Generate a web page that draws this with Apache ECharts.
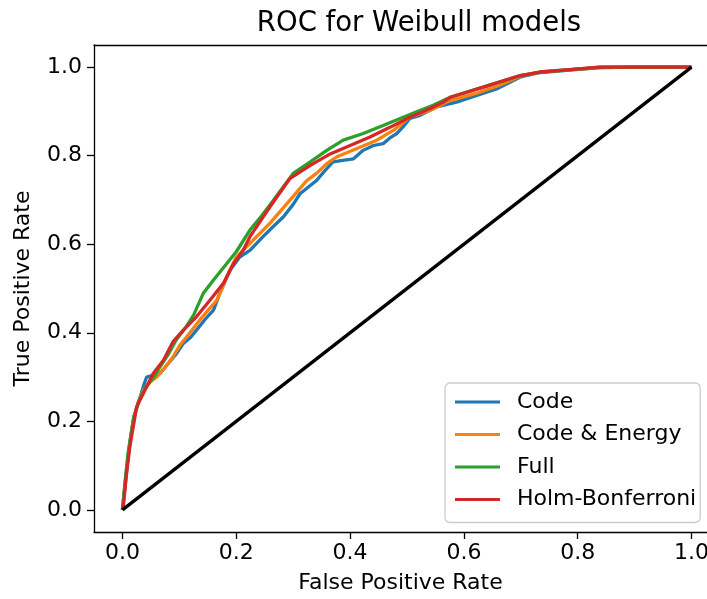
<!DOCTYPE html>
<html>
<head>
<meta charset="utf-8">
<script src="https://cdn.jsdelivr.net/npm/echarts@6/dist/echarts.min.js"></script>
<style>
  html, body { margin: 0; padding: 0; background: #fff; }
  #chart { width: 707px; height: 599px; }
</style>
</head>
<body>
<div id="chart"></div>
<script>
// ROC points [false positive rate, true positive rate] per model
const codeRoc = [[0,0],[0.005,0.06],[0.01,0.12],[0.015,0.17],[0.02,0.21],[0.03,0.25],[0.037,0.28],[0.0425,0.30],[0.057,0.305],[0.066,0.308],[0.08,0.33],[0.095,0.353],[0.107,0.376],[0.12,0.39],[0.13,0.406],[0.145,0.43],[0.16,0.451],[0.171,0.489],[0.18,0.515],[0.189,0.541],[0.206,0.571],[0.224,0.586],[0.247,0.617],[0.265,0.64],[0.283,0.662],[0.3,0.69],[0.312,0.714],[0.341,0.744],[0.355,0.765],[0.37,0.786],[0.39,0.79],[0.406,0.793],[0.423,0.812],[0.441,0.823],[0.458,0.827],[0.47,0.84],[0.482,0.85],[0.495,0.868],[0.505,0.884],[0.523,0.891],[0.552,0.91],[0.587,0.921],[0.62,0.935],[0.66,0.952],[0.7,0.978],[0.73,0.987],[0.78,0.993],[0.84,0.999],[0.9,1.0],[1,1]];
const codeEnergyRoc = [[0,0],[0.005,0.06],[0.01,0.12],[0.019,0.203],[0.028,0.245],[0.037,0.271],[0.05,0.29],[0.06,0.30],[0.075,0.322],[0.089,0.346],[0.1,0.37],[0.113,0.391],[0.136,0.429],[0.15,0.45],[0.166,0.474],[0.175,0.5],[0.183,0.526],[0.2,0.571],[0.224,0.602],[0.259,0.647],[0.294,0.699],[0.324,0.744],[0.341,0.76],[0.359,0.782],[0.376,0.797],[0.412,0.816],[0.447,0.835],[0.476,0.857],[0.505,0.887],[0.54,0.902],[0.576,0.925],[0.62,0.94],[0.66,0.958],[0.7,0.98],[0.73,0.988],[0.78,0.994],[0.84,0.999],[0.9,1.0],[1,1]];
const fullRoc = [[0,0],[0.005,0.07],[0.01,0.13],[0.02,0.21],[0.03,0.25],[0.04,0.275],[0.055,0.3],[0.066,0.323],[0.08,0.35],[0.095,0.385],[0.11,0.41],[0.125,0.44],[0.142,0.489],[0.16,0.519],[0.183,0.556],[0.2,0.583],[0.224,0.632],[0.245,0.665],[0.265,0.699],[0.3,0.76],[0.33,0.786],[0.359,0.812],[0.388,0.835],[0.423,0.85],[0.458,0.868],[0.488,0.884],[0.517,0.899],[0.546,0.914],[0.576,0.932],[0.634,0.955],[0.699,0.981],[0.734,0.989],[0.781,0.994],[0.839,1.0],[1,1]];
const holmRoc = [[0,0],[0.0015,0.0075],[0.007,0.08],[0.013,0.143],[0.025,0.233],[0.0425,0.278],[0.054,0.308],[0.072,0.338],[0.089,0.38],[0.107,0.406],[0.13,0.436],[0.154,0.474],[0.177,0.511],[0.195,0.556],[0.212,0.586],[0.224,0.617],[0.259,0.684],[0.294,0.748],[0.33,0.778],[0.365,0.804],[0.4,0.823],[0.435,0.842],[0.47,0.864],[0.505,0.887],[0.54,0.906],[0.564,0.921],[0.576,0.932],[0.634,0.955],[0.699,0.981],[0.734,0.989],[0.781,0.994],[0.839,1.0],[1,1]];
const chanceLine = [[0,0],[1,1]];

const modelNames = ['Code', 'Code & Energy', 'Full', 'Holm-Bonferroni'];
const modelColors = ['#1f77b4', '#ff7f0e', '#2ca02c', '#d62728'];
const tickValues = [0, 0.2, 0.4, 0.6, 0.8, 1.0];

const FONT = 'DejaVu Sans';
const chart = echarts.init(document.getElementById('chart'), null, { renderer: 'canvas' });

function axisCommon(name, min, max) {
  return {
    type: 'value',
    min: min,
    max: max,
    name: name,
    nameLocation: 'middle',
    nameTextStyle: { fontFamily: FONT, fontSize: 22, color: '#000' },
    splitLine: { show: false },
    axisLine: { show: true, onZero: false, lineStyle: { color: '#000', width: 1.3 } },
    axisTick: { show: true, inside: false, length: 7, lineStyle: { color: '#000', width: 1.3 }, customValues: tickValues },
    axisLabel: { fontFamily: FONT, fontSize: 22, color: '#000', customValues: tickValues,
                 formatter: v => v.toFixed(1) }
  };
}

const seriesList = [codeRoc, codeEnergyRoc, fullRoc, holmRoc].map((d, i) => ({
  type: 'line',
  name: modelNames[i],
  data: d,
  symbol: 'none',
  lineStyle: { color: modelColors[i], width: 3.3 },
  itemStyle: { color: modelColors[i] },
  z: 2 + i,
  animation: false
}));
seriesList.push({
  type: 'line',
  name: 'chance',
  data: chanceLine,
  symbol: 'none',
  lineStyle: { color: '#000', width: 3.3 },
  z: 10,
  animation: false
});

// x range runs past the right edge of the canvas, so the right frame line falls outside
const xMin = -0.05, xMax = 1.0272;
const xAxis = axisCommon('False Positive Rate', xMin, xMax);
xAxis.nameGap = 40;
xAxis.axisLabel.margin = 10;
// top frame line
const xAxisTop = {
  type: 'value', min: xMin, max: xMax, position: 'top',
  axisLine: { show: true, onZero: false, lineStyle: { color: '#000', width: 1.3 } },
  axisTick: { show: false }, axisLabel: { show: false }, splitLine: { show: false }
};
const yAxis = axisCommon('True Positive Rate', -0.05, 1.05);
yAxis.nameGap = 60;
yAxis.axisLabel.margin = 12;

chart.setOption({
  animation: false,
  backgroundColor: '#fff',
  title: {
    text: 'ROC for Weibull models',
    left: 414, top: 5, textAlign: 'center',
    textStyle: { fontFamily: FONT, fontSize: 27.5, fontWeight: 'normal', color: '#000' }
  },
  grid: { left: 94, top: 45, bottom: 67, right: 0, containLabel: false, outerBoundsMode: 'none' },
  xAxis: [xAxis, xAxisTop],
  yAxis: yAxis,
  legend: {
    data: modelNames,
    orient: 'vertical',
    left: 445, top: 383,
    icon: 'rect',
    itemWidth: 45, itemHeight: 3,
    itemGap: 10.5,
    padding: [8, 4, 12, 10],
    backgroundColor: 'rgba(255,255,255,0.8)',
    borderColor: '#cccccc', borderWidth: 1.3, borderRadius: 5,
    textStyle: { fontFamily: FONT, fontSize: 22, color: '#000', lineHeight: 22, padding: [0, 0, 0, 12] }
  },
  series: seriesList
});
</script>
</body>
</html>
